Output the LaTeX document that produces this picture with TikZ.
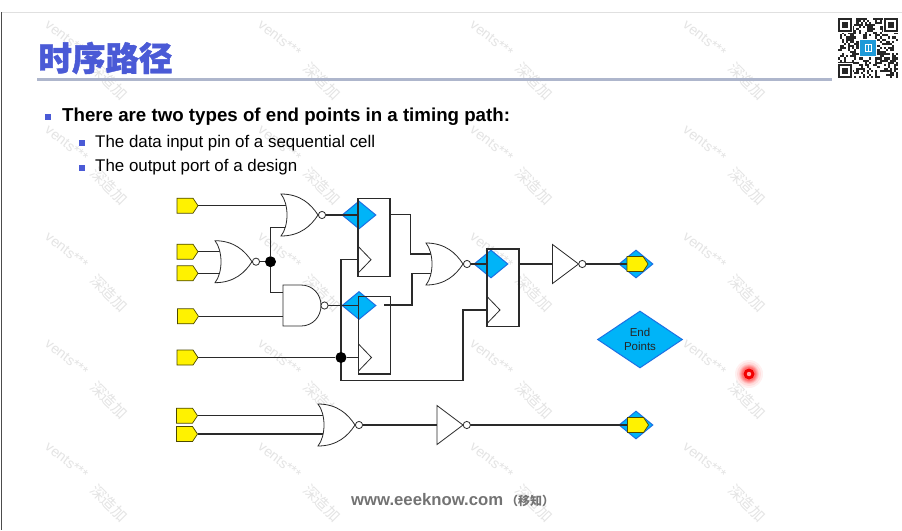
\documentclass[tikz,border=0pt]{standalone}
\usepackage{fontspec}
\setmainfont{Liberation Sans}
\newfontfamily\cjk{Noto Sans CJK SC}
\newfontfamily\cjkheavy[BoldFeatures={FakeBold=1.2}]{Noto Sans CJK SC}
\usetikzlibrary{shapes.geometric,calc}
\pgfdeclarelayer{wmlayer}
\pgfdeclarelayer{dialayer}
\pgfdeclarelayer{wirelayer}
\pgfsetlayers{wmlayer,dialayer,wirelayer,main}
\definecolor{titleblue}{HTML}{4A5AD6}
\definecolor{rulegray}{HTML}{AEB6CC}
\definecolor{portyellow}{HTML}{FFF200}
\definecolor{diafill}{HTML}{00B4F8}
\definecolor{diadraw}{HTML}{1C70E4}
\definecolor{wirecol}{HTML}{2A2A2A}
\definecolor{wmgray}{HTML}{E4E4E4}
\definecolor{qrblue}{HTML}{1E9AD8}
\tikzset{
 gateline/.style={draw=wirecol,line width=0.8pt,fill=white},
 wire/.style={draw=wirecol,line width=1.3pt},
 dotnode/.style={circle,fill=black,inner sep=0pt,minimum size=11pt},
 endpt/.style={diamond,fill=diafill,draw=diadraw,line width=1pt,inner sep=0pt,aspect=1.2},
 wmen/.style={text=wmgray,font=\fontsize{14}{14}\selectfont,rotate=-38,anchor=west,inner sep=0pt},
 wmcn/.style={text=wmgray,font=\cjk\fontsize{15}{15}\selectfont,rotate=-45,anchor=center,inner sep=0pt},
 bul/.style={fill=titleblue,inner sep=0pt,minimum size=6pt},
 inport/.pic={
  \draw[fill=portyellow,draw=black!70!portyellow,line width=0.7pt]
   (-10.5,-7.5) -- (5.5,-7.5) -- (10.5,0) -- (5.5,7.5) -- (-10.5,7.5) -- cycle;
  \coordinate (-out) at (10.5,0);
  \coordinate (-in) at (-10.5,0);
 },
 norgate/.pic={
  \draw[gateline] (0,-21) .. controls (19,-21) and (30,-11) .. (37,0)
    .. controls (30,11) and (19,21) .. (0,21)
    .. controls (8,11) and (8,-11) .. (0,-21) -- cycle;
  \draw[gateline] (41,0) circle[radius=3.6pt];
  \coordinate (-in) at (7,0);
  \coordinate (-out) at (44.6,0);
 },
 nandgate/.pic={
  \draw[gateline] (0,-20.5) -- (18,-20.5) .. controls (29.5,-20.5) and (38,-11.5) .. (38,0)
    .. controls (38,11.5) and (29.5,20.5) .. (18,20.5) -- (0,20.5) -- cycle;
  \draw[gateline] (41.5,0) circle[radius=3.6pt];
  \coordinate (-in) at (0,0);
  \coordinate (-out) at (45,0);
 },
 invgate/.pic={
  \draw[gateline] (0,-19.5) -- (26,0) -- (0,19.5) -- cycle;
  \draw[gateline] (29.8,0) circle[radius=3.6pt];
  \coordinate (-in) at (0,0);
  \coordinate (-out) at (33.4,0);
 },
 flop/.pic={
  \draw[draw=wirecol,line width=1.1pt] (0,0) rectangle (32,77.5);
  \draw[draw=wirecol,line width=0.8pt] (0,47.5) -- (13,61) -- (0,74.5);
  \coordinate (-nw) at (0,0);
  \coordinate (-ck) at (0,61);
  \coordinate (-se) at (32,77.5);
 }
}
\begin{document}
\begin{tikzpicture}[x=1pt,y=-1pt]
\useasboundingbox (0,0) rectangle (902,530);

% watermark
\begin{pgfonlayer}{wmlayer}
\fill[white] (0,0) rectangle (902,530);
\foreach \cx/\rowlist in {47/{23,128,235,342,445},260/{23,128,235,342,445},472/{23,128,235,342,445},685/{23,128,235,342,445}}{
  \foreach \ry in \rowlist {
    \node[wmen] (wm-\cx-\ry) at (\cx,\ry) {vents***};
    \node[wmcn] (wc-\cx-\ry) at ($(\cx,\ry)+(62,58)$) {深造加};
  }
}
\end{pgfonlayer}

% frame and title
\draw[color=black!12,line width=0.8pt] (1,12.5) -- (902,12.5);
\draw[color=black!70,line width=1pt] (1.2,12) -- (1.2,530);
\node[text=titleblue,font=\cjkheavy\bfseries\fontsize{33.5}{34}\selectfont,inner sep=0pt] (title) at (105.5,58) {时序路径};
\draw[color=rulegray,line width=3pt] (37,79) -- (832,79);

% QR code
\pgfmathsetseed{4242}
\foreach \i in {0,...,28}{
  \foreach \j in {0,...,28}{
    \pgfmathsetmacro{\rr}{rnd}
    \ifdim\rr pt>0.52pt
      \fill[black!85] ({837.5+\i*2.1},{17.5+\j*2.1}) rectangle +(2.1,2.1);
    \fi
  }
}
\foreach \qx/\qy in {837.5/17.5,883.7/17.5,837.5/63.7}{
  \fill[white] (\qx-0.5,\qy-0.5) rectangle +(15.7,15.7);
  \fill[black!85] (\qx,\qy) rectangle +(14.7,14.7);
  \fill[white] (\qx+2.1,\qy+2.1) rectangle +(10.5,10.5);
  \fill[black!85] (\qx+4.2,\qy+4.2) rectangle +(6.3,6.3);
}
\fill[white] (859,38.5) rectangle (877,56.5);
\fill[qrblue] (860,39.5) rectangle (876,55.5);
\draw[white,line width=0.9pt] (865,44) rectangle (871,51);
\draw[white,line width=0.9pt] (868,44) -- (868,51);

% bullet text
\node[bul] (b1) at (48,116.5) {};
\node[anchor=base west,inner sep=0pt,font=\bfseries\fontsize{18.7}{20}\selectfont] (t1) at (62,121) {There are two types of end points in a timing path:};
\node[bul] (b2) at (82,142.5) {};
\node[anchor=base west,inner sep=0pt,font=\fontsize{16.9}{20}\selectfont] (t2) at (95,147) {The data input pin of a sequential cell};
\node[bul] (b3) at (82,167.5) {};
\node[anchor=base west,inner sep=0pt,font=\fontsize{16.9}{20}\selectfont] (t3) at (95,171.7) {The output port of a design};

% gates, flops, ports
\pic (p1) at (187.5,205.7) {inport};
\pic (p2) at (187.5,251.7) {inport};
\pic (p3) at (187.5,273.3) {inport};
\pic (p4) at (188,316.3) {inport};
\pic (p5) at (187.5,357.5) {inport};
\pic (p6) at (187,415.7) {inport};
\pic (p7) at (187,434) {inport};
\pic (n1) at (281,215) {norgate};
\pic (n2) at (215,261.7) {norgate};
\pic (a1) at (283,305.5) {nandgate};
\pic (n3) at (426,264) {norgate};
\pic (n4) at (318,425) {norgate};
\pic (i1) at (552.5,264) {invgate};
\pic (i2) at (437,425) {invgate};
\pic (f1) at (358,198.7) {flop};
\pic (f2) at (358.5,296.5) {flop};
\pic (f3) at (487,249) {flop};
\pic (o1) at (637.5,264) {inport};
\pic (o2) at (638,425) {inport};

\node[dotnode] (j1) at (270.5,261.7) {};
\node[dotnode] (j2) at (341,357.5) {};

% end point diamonds
\begin{pgfonlayer}{dialayer}
\node[endpt,minimum width=34pt,minimum height=28pt] (d1) at (359,215) {};
\node[endpt,minimum width=34pt,minimum height=28pt] (d2) at (359,305.5) {};
\node[endpt,minimum width=34pt,minimum height=28pt] (d3) at (491,264) {};
\node[endpt,minimum width=34pt,minimum height=28pt] (d4) at (636,264) {};
\node[endpt,minimum width=34pt,minimum height=28pt] (d5) at (636,425) {};
\end{pgfonlayer}
\node[endpt,minimum width=85pt,minimum height=57pt,align=center,text=black!85,
      font=\fontsize{11.5}{14}\selectfont] (ep) at (640,339.5) {End\\Points};

% connectors
\coordinate (f1q) at (389,214.5);
\coordinate (f2q) at (384,305);
\coordinate (f3q) at (519,264);
\coordinate (n3a) at (433,254);
\coordinate (n3b) at (433,273.5);
\coordinate (n1a) at (288,205.7);
\coordinate (n1b) at (288,227.5);
\coordinate (n2a) at (222,251.7);
\coordinate (n2b) at (222,273.3);
\coordinate (a1a) at (283,292.7);
\coordinate (a1b) at (283,316.3);
\coordinate (n4a) at (325,415.7);
\coordinate (n4b) at (325,434);
\coordinate (ck1net) at (341,259.7);
\coordinate (cknetb) at (341,380.7);
\coordinate (ck3net) at (463,380.7);
\begin{pgfonlayer}{wirelayer}
\draw[wire] (p1-out) -- (n1a);
\draw[wire] (p2-out) -- (n2a);
\draw[wire] (p3-out) -- (n2b);
\draw[wire] (p4-out) -- (a1b);
\draw[wire] (p5-out) -- (j2) -- (f2-ck);
\draw[wire] (p6-out) -- (n4a);
\draw[wire] (p7-out) -- (n4b);
\draw[wire] (n2-out) -- (j1);
\draw[wire] (j1) |- (n1b);
\draw[wire] (j1) |- (a1a);
\draw[wire] (n1-out) -- (f1-nw |- n1-out);
\draw[wire] (a1-out) -- (f2-nw |- a1-out);
\draw[wire] (f1-ck) -- (ck1net) -- (cknetb) -- (ck3net) |- (f3-ck);
\draw[wire] (f1q) -| (410.5,254) -- (n3a);
\draw[wire] (f2q) -| (412,273.5) -- (n3b);
\draw[wire] (n3-out) -- (f3-nw |- n3-out);
\draw[wire] (f3q) -- (i1-in);
\draw[wire] (i1-out) -- (o1-in);
\draw[wire] (n4-out) -- (i2-in);
\draw[wire] (i2-out) -- (o2-in);
\end{pgfonlayer}

% laser pointer
\foreach \gr/\gc in {14/0.06,12/0.08,10/0.10,9/0.14,8/0.16,7/0.20}{
  \fill[red,opacity=\gc] (749,374) circle[radius=\gr pt];
}
\fill[red!95!black] (749,374) circle[radius=5.5pt];
\fill[white!65!red] (749,374) circle[radius=2.2pt];

% footer
\node[anchor=base west,inner sep=0pt,text=black!55,font=\bfseries\fontsize{16.7}{18}\selectfont] (web) at (351,505) {www.eeeknow.com};
\node[anchor=base west,inner sep=0pt,text=black!55,font=\cjk\bfseries\fontsize{12}{14}\selectfont] (web2) at (506,505) {（移知）};
\end{tikzpicture}
\end{document}
